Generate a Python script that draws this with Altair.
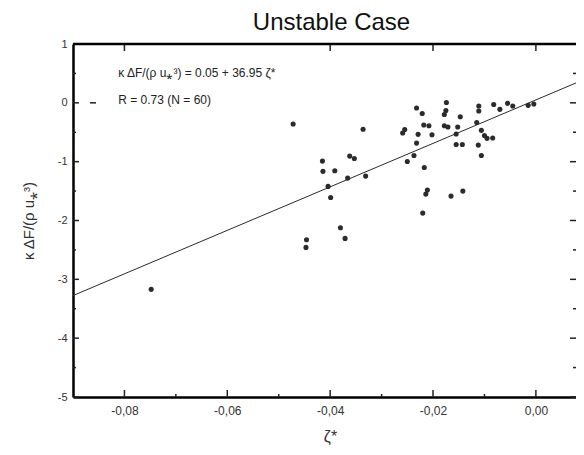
import altair as alt
import pandas as pd

# ---- data ----
zeta = [-0.0748, -0.0472, -0.0336, -0.0415, -0.0362, -0.0353, -0.0414, -0.0391,
        -0.0366, -0.0331, -0.0404, -0.0399, -0.0380, -0.0371, -0.0446, -0.0447,
        -0.0255, -0.0259, -0.0250, -0.0237, -0.0232, -0.0229, -0.0232, -0.0221,
        -0.0218, -0.0208, -0.0202, -0.0217, -0.0211, -0.0214, -0.0220, -0.0174,
        -0.0175, -0.0178, -0.0178, -0.0171, -0.0152, -0.0147, -0.0155, -0.0155,
        -0.0143, -0.0165, -0.0142, -0.0115, -0.0111, -0.0111, -0.0112, -0.0106,
        -0.0100, -0.0095, -0.0084, -0.0106, -0.0082, -0.0070, -0.0055, -0.0045,
        -0.0015, -0.0004]
flux = [-3.17, -0.36, -0.45, -0.99, -0.905, -0.947, -1.165, -1.155,
        -1.279, -1.245, -1.42, -1.61, -2.124, -2.304, -2.328, -2.457,
        -0.454, -0.514, -0.998, -0.896, -0.684, -0.536, -0.088, -0.182,
        -0.378, -0.389, -0.542, -1.10, -1.483, -1.551, -1.874, 0.005,
        -0.131, -0.199, -0.389, -0.412, -0.412, -0.236, -0.531, -0.709,
        -0.709, -1.585, -1.50, -0.335, -0.054, -0.139, -0.718, -0.468,
        -0.556, -0.604, -0.599, -0.896, -0.029, -0.111, -0.009, -0.054,
        -0.043, -0.020]

fit_zeta = [-0.09, 0.0078]
fit_flux = [-3.276, 0.338]

x_major = [-0.08, -0.06, -0.04, -0.02, 0.0]
x_minor = [-0.07, -0.05, -0.03, -0.01]
x_top = [-0.08, -0.04, -0.02, 0.0]
y_major = [-5, -4, -3, -2, -1, 0, 1]
y_minor = [-4.5, -3.5, -2.5, -1.5, -0.5, 0.5]

notes_text = ["κ ΔF/(ρ u⁎³) = 0.05 + 36.95 ζ*", "R = 0.73 (N = 60)"]
notes_x = [-0.0812, -0.0812]
notes_y = [0.50, 0.04]

W, H = 503, 353
FONT = "Liberation Sans"
INK = "#2b2b2b"

xs = alt.Scale(domain=[-0.09, 0.0078], nice=False, zero=False)
ys = alt.Scale(domain=[-5, 1], nice=False, zero=False)

xlab = "(datum.value < -1e-9 ? '-' : '') + replace(format(abs(datum.value), '.2f'), '.', ',')"
ylab = "(datum.value < 0 ? '-' : '') + format(abs(datum.value), 'd')"

XAXIS = alt.Axis(
    values=x_major, ticks=False, grid=False, domainColor="black", domainWidth=2.5,
    labelExpr=xlab, labelFont=FONT, labelFontSize=12, labelColor="#333",
    labelPadding=8, title="ζ*", titleFont=FONT, titleFontSize=16,
    titleFontWeight="normal", titleColor="#333", titleBaseline="alphabetic",
    titleX=257, titleY=44)
YAXIS = alt.Axis(
    values=y_major, ticks=False, grid=False, domainColor="black", domainWidth=2.5,
    labelExpr=ylab, labelFont=FONT, labelFontSize=11, labelColor="#333",
    labelPadding=6, title="κ ΔF/(ρ u⁎³)", titleFont=FONT, titleFontSize=15,
    titleFontWeight="normal", titleColor="#333", titleBaseline="alphabetic",
    titleAngle=270, titleX=-40, titleY=H / 2)


def X(field):
    return alt.X(field, type="quantitative", scale=xs, axis=XAXIS)


def Y(field):
    return alt.Y(field, type="quantitative", scale=ys, axis=YAXIS)


pts = pd.DataFrame({"zeta": zeta, "flux": flux})
fit = pd.DataFrame({"zeta": fit_zeta, "flux": fit_flux})
notes = pd.DataFrame({"zeta": notes_x, "flux": notes_y, "t": notes_text})

points = alt.Chart(pts).mark_circle(size=26, color=INK, opacity=1).encode(
    x=X("zeta"), y=Y("flux"))

line = alt.Chart(fit).mark_line(color=INK, strokeWidth=1).encode(x=X("zeta"), y=Y("flux"))

text = alt.Chart(notes).mark_text(align="left", baseline="middle", font=FONT,
                                  fontSize=12, color="#222").encode(
    x=X("zeta"), y=Y("flux"), text="t:N")


def yticks(vals, x0, x1):
    return alt.Chart(pd.DataFrame({"flux": vals})).mark_rule(color="#222", strokeWidth=1.5).encode(
        y=Y("flux"), x=alt.value(x0), x2=alt.value(x1))


def xticks(vals, y0, y1):
    return alt.Chart(pd.DataFrame({"zeta": vals})).mark_rule(color="#222", strokeWidth=1.5).encode(
        x=X("zeta"), y=alt.value(y0), y2=alt.value(y1))


top_border = alt.Chart(pd.DataFrame({"v": [0]})).mark_rule(color="black", strokeWidth=2.5).encode(
    x=alt.value(0), x2=alt.value(W), y=alt.value(0))

chart = alt.layer(
    points, line, text,
    yticks(y_major, 0, 6), yticks(y_minor, 0, 3),
    yticks(y_major, W - 6, W), yticks(y_minor, W - 3, W),
    yticks([0], 17, 23),
    xticks(x_major, H, H - 7), xticks(x_minor, H, H - 3),
    xticks(x_top, 0, 7),
    top_border,
).properties(
    width=W, height=H, autosize="none",
    padding={"left": 65, "top": 36, "right": 0, "bottom": 50},
    title=alt.TitleParams("Unstable Case", font=FONT, fontSize=24, fontWeight="normal",
                          color="#111", anchor="middle", dx=7, offset=0, dy=16,
                          baseline="alphabetic"),
).configure_view(stroke=None)

chart.save("out.html", embed_options={"renderer": "svg", "actions": False})
